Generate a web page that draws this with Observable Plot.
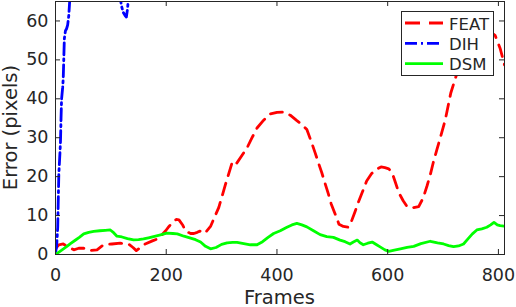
<!DOCTYPE html>
<html><head><meta charset="utf-8">
<script src="https://cdn.jsdelivr.net/npm/d3@7"></script>
<script src="https://cdn.jsdelivr.net/npm/@observablehq/plot@0.6"></script>
<style>body{margin:0;background:#fff} #chart{width:516px;height:307px}</style>
</head><body><div id="chart"></div>
<script>
// ---- data ----
const featFrames = [0,6,14,22,33,42,51,62,75,87,102,117,132,140,146,155,162,175,184,192,199,205,211,218,223,230,235,244,250,256,261,265,270,280,287,295,307,319,324,328,337,346,355,364,376,388,400,412,424,436,445,454,462,469,475,481,487,493,498,504,512,520,529,535,541,547,555,562,571,580,588,595,602,608,614,620,628,635,645,656,664,671,677,683,689,695,704,714,725,740,760,778,794,803,811];
const featError  = [1.5,2.5,2.7,2.0,1.2,1.6,1.6,1.0,1.2,2.5,2.7,2.9,2.7,1.8,1.0,2.0,2.7,3.5,4.0,5.0,6.1,7.2,8.2,9.0,8.9,7.5,6.0,5.4,5.4,5.7,6.0,5.6,5.5,7.2,9.5,12.1,18,23.6,23.0,23.6,25.5,27.4,30,32.5,34.5,36.1,36.5,36.6,35.8,34.4,33.4,32.1,29,26.1,23.5,21.0,18.2,15.5,13.0,10.8,7.8,7.2,7.0,8.7,11,13.4,16.3,18.9,20.8,21.9,22.5,22.3,22.0,21.0,18.5,15.9,13.8,12.3,12.0,12.3,14.5,17.6,20.5,24,27,30,34.6,41.5,46.5,52,56,58,56.3,53,48.7];

const dihFrames = [0,2,4,5,6,8,9,10,11,13,14,15,16,18,20,22,24,26,30,60,100,115,119,122,126,128,130,133,140];
const dihError  = [0.5,2,7,14,20.6,26,29,35,40,43,45.3,50.4,55.5,57.5,58,59,61.4,66,72,80,75,68,64,62.3,61.3,61,63,68,75];

const dsmFrames = [0,10,20,27,35,43,51,60,69,80,90,99,105,111,120,130,141,150,159,168,177,188,201,212,220,232,244,253,262,271,280,290,300,310,320,328,340,352,364,374,384,394,406,418,427,436,445,454,466,478,490,502,514,523,532,538,545,550,556,564,572,580,587,595,602,612,623,635,647,660,677,690,701,710,719,728,737,745,753,761,770,779,786,792,798,803,811];
const dsmError  = [0,1.0,2.0,2.8,3.6,4.4,5.3,5.7,5.95,6.1,6.2,6.3,5.6,4.7,4.5,4.1,3.75,3.8,4.0,4.3,4.6,5.0,5.5,5.4,5.3,4.7,4.2,3.8,3.2,2.1,1.45,1.8,2.6,3.0,3.1,3.1,2.8,2.5,2.5,3.3,4.4,5.4,6.1,7.0,7.6,8.0,7.6,7.1,6.1,5.1,4.6,4.4,3.7,3.3,2.7,3.2,3.7,3.0,2.5,2.9,3.2,2.5,1.9,1.2,0.8,1.1,1.45,1.8,2.1,2.8,3.4,3.0,2.7,2.3,2.0,2.2,2.7,4.0,5.3,6.3,6.6,7.0,7.6,8.25,7.6,7.4,7.3];

const xTicks = [0,200,400,600,800];
const yTicks = [0,10,20,30,40,50,60];
const xDomain = [0,811];
const yDomain = [0,65];
const seriesNames = ["FEAT","DIH","DSM"];

// ---- styling ----
const seriesColors = {FEAT:"#ff0000", DIH:"#0000ff", DSM:"#00ff00"};
const seriesDash = {FEAT:"12,8", DIH:"12,4,2,4", DSM:null};
const legendDash = {FEAT:"15,9", DIH:"12,4,2,4", DSM:null};
const W=516,H=307,mL=55,mR=12,mT=1,mB=53;
const plotW=W-mL-mR, plotH=H-mT-mB, tickLen=5, ink="#262626", lw=2.8;
const font="DejaVu Sans";
const tickFont=17.5;

const rows = (xs, ys) => xs.map((x,i)=>({frame:x, error:ys[i]}));
const seriesData = {FEAT: rows(featFrames,featError), DIH: rows(dihFrames,dihError), DSM: rows(dsmFrames,dsmError)};

const lineMarks = seriesNames.map(n => Plot.line(seriesData[n], {
  x:"frame", y:"error", stroke:seriesColors[n], strokeWidth:lw,
  strokeDasharray: seriesDash[n] || undefined, clip:true
}));

const chart = Plot.plot({
  width:W, height:H, marginLeft:mL, marginRight:mR, marginTop:mT, marginBottom:mB,
  style:{fontFamily:font, fontSize:"16px", color:ink, background:"#fff", overflow:"visible"},
  x:{domain:xDomain}, y:{domain:yDomain},
  marks:[
    ...lineMarks,
    Plot.frame({stroke:ink}),
    Plot.tickX(xTicks,{x:d=>d, insetTop:plotH-tickLen, stroke:ink}),
    Plot.tickX(xTicks,{x:d=>d, insetBottom:plotH-tickLen, stroke:ink}),
    Plot.tickY(yTicks,{y:d=>d, insetRight:plotW-tickLen, stroke:ink}),
    Plot.tickY(yTicks,{y:d=>d, insetLeft:plotW-tickLen, stroke:ink}),
    Plot.axisX(xTicks,{tickSize:0, tickPadding:13.6, fontSize:tickFont, fill:ink, label:null}),
    Plot.axisY(yTicks,{tickSize:0, tickPadding:7, fontSize:tickFont, fill:ink, label:null})
  ]
});
document.getElementById("chart").append(chart);

// ---- axis titles and legend ----
const svg = d3.select(chart);
svg.append("text").attr("x", mL+plotW/2).attr("y", 303.5).attr("text-anchor","middle")
  .attr("font-family",font).attr("font-size",19.5).attr("fill",ink).text("Frames");
svg.append("text").attr("transform",`translate(16.5,${mT+plotH/2}) rotate(-90)`).attr("text-anchor","middle")
  .attr("font-family",font).attr("font-size",19.5).attr("fill",ink).text("Error (pixels)");

const lg = svg.append("g").attr("transform","translate(401,11)");
lg.append("rect").attr("x",0.5).attr("y",0.5).attr("width",92).attr("height",64)
  .style("fill","#ffffff").style("stroke",ink).style("stroke-width","1px");
seriesNames.forEach((n,i)=>{
  const yc = 12 + i*20.3;
  lg.append("line").attr("x1",4).attr("x2",42).attr("y1",yc).attr("y2",yc)
    .style("stroke",seriesColors[n]).style("stroke-width",lw+"px")
    .style("stroke-dasharray", legendDash[n] || "none");
  lg.append("text").attr("x",48).attr("y",yc+6.5).attr("text-anchor","start")
    .attr("font-family",font).attr("font-size",16.5).attr("fill",ink).text(n);
});
</script>
</body></html>
